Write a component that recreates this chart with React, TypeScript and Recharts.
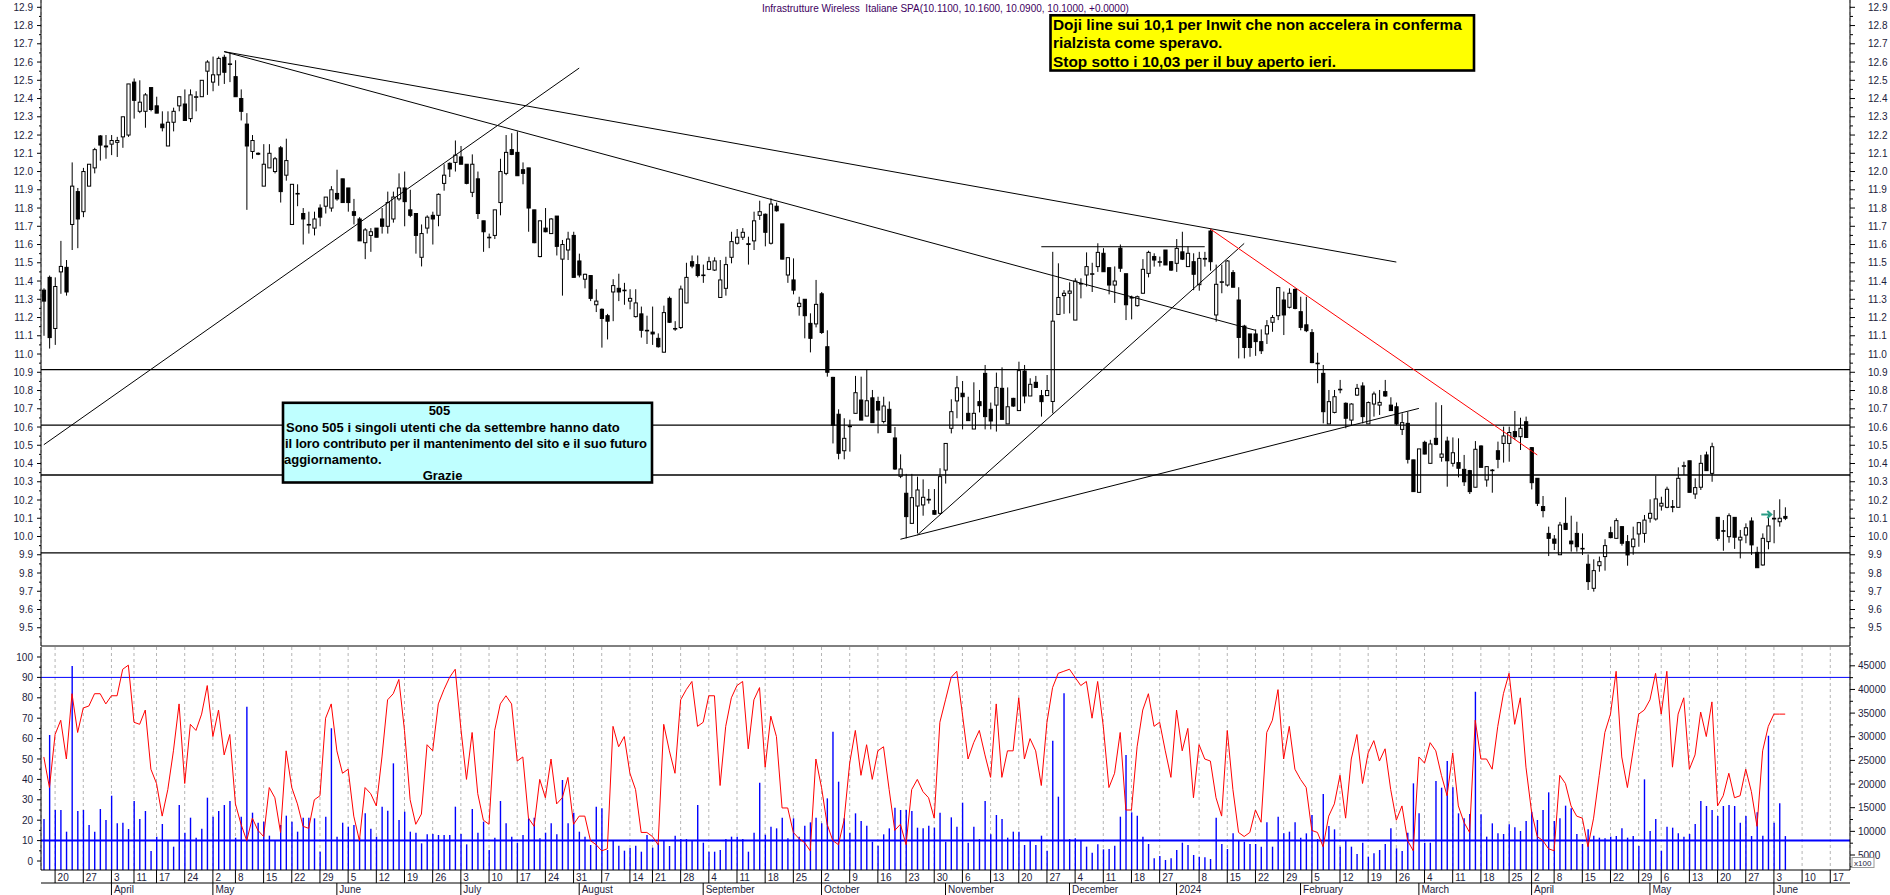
import React from 'react'
import {
  ComposedChart, Bar, Line, XAxis, YAxis, CartesianGrid, ReferenceLine, ReferenceDot,
} from 'recharts'

const FONT = '"Liberation Sans", Arial, sans-serif'
const LABEL = '#1c1c3c'
const SYMBOL = 'Infrastrutture Wireless  Italiane SPA'

// Borsa Italiana closing days inside the period
const HOLIDAYS = [
  '2023-04-07', '2023-04-10', '2023-05-01', '2023-08-15', '2023-12-25', '2023-12-26',
  '2024-01-01', '2024-03-29', '2024-04-01', '2024-05-01',
]
const MONTHS = ['January', 'February', 'March', 'April', 'May', 'June', 'July',
  'August', 'September', 'October', 'November', 'December']

function tradingDays(from: string, to: string): string[] {
  const out: string[] = []
  const d = new Date(from + 'T00:00:00Z')
  const end = new Date(to + 'T00:00:00Z')
  while (d <= end) {
    const wd = d.getUTCDay()
    const iso = d.toISOString().slice(0, 10)
    if (wd !== 0 && wd !== 6 && !HOLIDAYS.includes(iso)) out.push(iso)
    d.setUTCDate(d.getUTCDate() + 1)
  }
  return out
}

const dates = tradingDays('2023-03-16', '2024-06-20')

const opens = [
  11.35, 11.42, 11.14, 11.45, 11.475, 11.71, 11.89, 11.78, 11.92, 12.02,
  12.195, 12.14, 12.15, 12.16, 12.19, 12.2, 12.49, 12.33, 12.33, 12.46,
  12.36, 12.26, 12.14, 12.27, 12.36, 12.37, 12.29, 12.41, 12.41, 12.55,
  12.49, 12.53, 12.626, 12.59, 12.52, 12.4, 12.26, 12.11, 12.1, 11.92,
  12.02, 12.0, 12.13, 11.98, 11.71, 11.88, 11.77, 11.71, 11.69, 11.8,
  11.81, 11.8, 11.88, 11.96, 11.91, 11.78, 11.74, 11.61, 11.65, 11.69,
  11.74, 11.7, 11.74, 11.85, 11.91, 11.79, 11.77, 11.53, 11.69, 11.76,
  11.76, 11.935, 12.045, 12.05, 12.08, 12.04, 11.886, 11.96, 11.73, 11.64,
  11.65, 11.83, 11.99, 12.12, 12.105, 12.01, 12.02, 11.79, 11.534, 11.69,
  11.66, 11.756, 11.52, 11.57, 11.65, 11.51, 11.41, 11.43, 11.27, 11.245,
  11.21, 11.34, 11.36, 11.35, 11.29, 11.205, 11.22, 11.13, 11.12, 11.086,
  11.01, 11.305, 11.14, 11.145, 11.28, 11.506, 11.49, 11.43, 11.464, 11.46,
  11.31, 11.36, 11.53, 11.607, 11.64, 11.6, 11.62, 11.76, 11.766, 11.607,
  11.81, 11.713, 11.433, 11.406, 11.26, 11.3, 11.168, 11.165, 11.33, 11.04,
  10.872, 10.67, 10.47, 10.605, 10.675, 10.748, 10.66, 10.76, 10.74, 10.63,
  10.697, 10.54, 10.33, 10.237, 10.072, 10.167, 10.173, 10.204, 10.142, 10.127,
  10.364, 10.593, 10.743, 10.785, 10.675, 10.589, 10.739, 10.894, 10.697, 10.72,
  10.812, 10.617, 10.757, 10.69, 10.907, 10.77, 10.845, 10.772, 10.772, 10.74,
  11.217, 11.32, 11.333, 11.186, 11.387, 11.433, 11.44, 11.479, 11.552, 11.473,
  11.378, 11.58, 11.44, 11.31, 11.265, 11.333, 11.442, 11.534, 11.506, 11.57,
  11.506, 11.497, 11.56, 11.479, 11.506, 11.38, 11.52, 11.674, 11.214, 11.396,
  11.378, 11.446, 11.296, 11.153, 11.11, 11.11, 11.068, 11.11, 11.174, 11.21,
  11.296, 11.256, 11.354, 11.232, 11.16, 11.117, 10.95, 10.894, 10.617, 10.68,
  10.807, 10.73, 10.638, 10.775, 10.825, 10.617, 10.726, 10.72, 10.794, 10.72,
  10.711, 10.587, 10.62, 10.42, 10.242, 10.516, 10.401, 10.538, 10.434, 10.523,
  10.401, 10.405, 10.368, 10.361, 10.27, 10.496, 10.31, 10.364, 10.47, 10.51,
  10.51, 10.575, 10.547, 10.629, 10.487, 10.319, 10.164, 10.017, 9.986, 9.9,
  10.072, 9.975, 10.017, 9.935, 9.848, 9.716, 9.84, 9.89, 10.021, 9.99,
  10.054, 9.972, 9.944, 10.014, 10.017, 10.1, 10.096, 10.167, 10.16, 10.164,
  10.16, 10.388, 10.415, 10.233, 10.27, 10.447, 10.346, 10.105, 10.032, 9.999,
  10.105, 9.981, 10.008, 10.085, 9.913, 9.844, 9.972, 10.096, 10.081, 10.11,
]

const highs = [
  11.36, 11.43, 11.42, 11.62, 11.515, 12.05, 11.91, 12.02, 12.04, 12.13,
  12.2, 12.2, 12.2, 12.19, 12.3, 12.48, 12.51, 12.5, 12.43, 12.46,
  12.41, 12.33, 12.33, 12.35, 12.41, 12.45, 12.45, 12.44, 12.5, 12.61,
  12.63, 12.63, 12.64, 12.65, 12.61, 12.45, 12.32, 12.2, 12.105, 12.15,
  12.15, 12.08, 12.14, 12.18, 11.93, 11.93, 11.8, 11.78, 11.78, 11.82,
  11.86, 11.92, 12.01, 11.96, 11.91, 11.85, 11.75, 11.69, 11.69, 11.69,
  11.8, 11.89, 11.89, 11.99, 12.0, 11.9, 11.77, 11.71, 11.76, 11.78,
  11.88, 12.04, 12.05, 12.17, 12.14, 12.04, 12.094, 12.0, 11.73, 11.66,
  11.79, 12.07, 12.2, 12.21, 12.22, 12.05, 12.02, 11.79, 11.73, 11.8,
  11.745, 11.756, 11.625, 11.67, 11.67, 11.55, 11.44, 11.43, 11.355, 11.25,
  11.22, 11.41, 11.44, 11.39, 11.355, 11.355, 11.26, 11.21, 11.26, 11.113,
  11.265, 11.315, 11.18, 11.375, 11.5, 11.54, 11.54, 11.49, 11.533, 11.53,
  11.515, 11.533, 11.67, 11.685, 11.69, 11.643, 11.78, 11.84, 11.77, 11.853,
  11.83, 11.713, 11.53, 11.524, 11.314, 11.3, 11.223, 11.406, 11.34, 11.13,
  10.875, 10.697, 10.648, 10.64, 10.88, 10.876, 10.918, 10.803, 10.766, 10.766,
  10.74, 10.6, 10.45, 10.343, 10.343, 10.328, 10.313, 10.26, 10.26, 10.374,
  10.51, 10.752, 10.88, 10.852, 10.766, 10.845, 10.803, 10.94, 10.734, 10.898,
  10.927, 10.817, 10.76, 10.958, 10.94, 10.867, 10.88, 10.803, 10.885, 11.56,
  11.497, 11.35, 11.393, 11.415, 11.415, 11.557, 11.5, 11.607, 11.58, 11.475,
  11.48, 11.6, 11.44, 11.32, 11.32, 11.52, 11.566, 11.552, 11.534, 11.57,
  11.51, 11.63, 11.67, 11.59, 11.552, 11.56, 11.56, 11.683, 11.49, 11.49,
  11.515, 11.46, 11.366, 11.16, 11.11, 11.135, 11.135, 11.186, 11.214, 11.364,
  11.342, 11.36, 11.36, 11.314, 11.314, 11.137, 11.007, 10.94, 10.803, 10.803,
  10.858, 10.735, 10.73, 10.836, 10.845, 10.74, 10.794, 10.803, 10.858, 10.763,
  10.734, 10.675, 10.684, 10.42, 10.48, 10.525, 10.53, 10.735, 10.72, 10.547,
  10.543, 10.538, 10.447, 10.365, 10.523, 10.5, 10.385, 10.37, 10.52, 10.602,
  10.602, 10.688, 10.651, 10.657, 10.49, 10.32, 10.222, 10.054, 10.008, 10.08,
  10.215, 10.114, 10.081, 10.017, 9.902, 9.875, 9.89, 9.985, 10.054, 10.1,
  10.057, 10.008, 10.054, 10.08, 10.118, 10.204, 10.333, 10.218, 10.273, 10.2,
  10.379, 10.41, 10.415, 10.319, 10.447, 10.465, 10.514, 10.105, 10.09, 10.127,
  10.105, 10.036, 10.072, 10.105, 9.944, 10.017, 10.118, 10.145, 10.204, 10.16,
]

const lows = [
  11.1, 11.03, 11.05, 11.33, 11.32, 11.57, 11.58, 11.75, 11.92, 11.99,
  12.06, 12.07, 12.09, 12.08, 12.13, 12.19, 12.29, 12.32, 12.24, 12.33,
  12.32, 12.22, 12.14, 12.22, 12.33, 12.28, 12.27, 12.33, 12.41, 12.42,
  12.44, 12.47, 12.48, 12.49, 12.41, 12.28, 11.79, 12.07, 12.09, 11.92,
  12.02, 11.99, 11.83, 11.95, 11.71, 11.81, 11.6, 11.66, 11.65, 11.7,
  11.77, 11.78, 11.84, 11.83, 11.78, 11.71, 11.62, 11.52, 11.56, 11.64,
  11.66, 11.66, 11.72, 11.84, 11.7, 11.75, 11.55, 11.48, 11.66, 11.6,
  11.7, 11.895, 11.97, 12.0, 12.04, 11.93, 11.86, 11.74, 11.56, 11.58,
  11.63, 11.76, 11.98, 12.09, 11.977, 11.93, 11.67, 11.607, 11.53, 11.667,
  11.66, 11.54, 11.32, 11.515, 11.42, 11.42, 11.36, 11.29, 11.23, 11.035,
  11.08, 11.18, 11.29, 11.27, 11.245, 11.2, 11.09, 11.055, 11.05, 11.035,
  11.009, 11.17, 11.127, 11.137, 11.278, 11.47, 11.42, 11.39, 11.46, 11.455,
  11.31, 11.32, 11.497, 11.6, 11.625, 11.49, 11.57, 11.735, 11.59, 11.6,
  11.78, 11.519, 11.39, 11.327, 11.21, 11.086, 11.009, 11.146, 11.11, 10.876,
  10.51, 10.423, 10.423, 10.465, 10.675, 10.638, 10.66, 10.624, 10.565, 10.62,
  10.57, 10.365, 10.32, 9.99, 10.07, 10.017, 10.114, 10.18, 10.12, 10.12,
  10.29, 10.565, 10.648, 10.587, 10.635, 10.589, 10.68, 10.587, 10.587, 10.575,
  10.642, 10.617, 10.71, 10.69, 10.73, 10.77, 10.817, 10.657, 10.77, 10.675,
  11.217, 11.22, 11.223, 11.186, 11.305, 11.37, 11.34, 11.45, 11.45, 11.327,
  11.28, 11.45, 11.186, 11.19, 11.26, 11.33, 11.42, 11.479, 11.479, 11.488,
  11.455, 11.45, 11.515, 11.479, 11.35, 11.347, 11.479, 11.457, 11.177, 11.333,
  11.37, 11.366, 10.976, 10.976, 10.985, 10.99, 11.0, 11.055, 11.122, 11.186,
  11.104, 11.25, 11.245, 11.13, 11.12, 10.95, 10.84, 10.62, 10.617, 10.675,
  10.785, 10.593, 10.61, 10.77, 10.62, 10.617, 10.657, 10.666, 10.766, 10.69,
  10.61, 10.556, 10.4, 10.245, 10.24, 10.45, 10.4, 10.5, 10.41, 10.273,
  10.383, 10.324, 10.277, 10.233, 10.27, 10.379, 10.273, 10.24, 10.374, 10.405,
  10.41, 10.529, 10.474, 10.54, 10.258, 10.167, 10.105, 9.893, 9.926, 9.899,
  10.035, 9.917, 9.917, 9.899, 9.707, 9.698, 9.807, 9.813, 9.99, 9.99,
  9.95, 9.84, 9.9, 9.944, 9.966, 10.076, 10.087, 10.142, 10.155, 10.133,
  10.16, 10.337, 10.242, 10.206, 10.255, 10.36, 10.3, 9.977, 9.922, 9.966,
  9.932, 9.88, 9.963, 9.899, 9.829, 9.84, 9.93, 9.963, 10.054, 10.09,
]

const closes = [
  11.29, 11.09, 11.37, 11.48, 11.34, 11.92, 11.74, 12.0, 12.04, 12.12,
  12.145, 12.135, 12.17, 12.17, 12.3, 12.48, 12.39, 12.38, 12.42, 12.34,
  12.32, 12.24, 12.27, 12.33, 12.41, 12.28, 12.42, 12.41, 12.5, 12.6,
  12.53, 12.62, 12.544, 12.59, 12.41, 12.33, 12.14, 12.17, 12.095, 12.04,
  12.1, 12.07, 11.89, 12.06, 11.93, 11.88, 11.74, 11.71, 11.74, 11.75,
  11.86, 11.9, 11.85, 11.83, 11.83, 11.76, 11.62, 11.68, 11.67, 11.64,
  11.7, 11.83, 11.86, 11.91, 11.835, 11.76, 11.65, 11.66, 11.75, 11.74,
  11.875, 11.98, 12.014, 12.09, 12.04, 11.935, 12.04, 11.77, 11.67, 11.64,
  11.79, 12.0, 12.105, 12.094, 11.977, 11.99, 11.8, 11.61, 11.73, 11.67,
  11.74, 11.59, 11.6, 11.63, 11.42, 11.433, 11.437, 11.305, 11.29, 11.195,
  11.18, 11.375, 11.34, 11.35, 11.305, 11.28, 11.13, 11.13, 11.11, 11.04,
  11.227, 11.174, 11.137, 11.356, 11.42, 11.482, 11.43, 11.433, 11.506, 11.51,
  11.406, 11.49, 11.616, 11.64, 11.667, 11.605, 11.73, 11.78, 11.667, 11.822,
  11.785, 11.52, 11.528, 11.35, 11.278, 11.21, 11.086, 11.272, 11.118, 10.9,
  10.61, 10.456, 10.538, 10.605, 10.788, 10.638, 10.744, 10.624, 10.693, 10.715,
  10.57, 10.37, 10.37, 10.109, 10.213, 10.255, 10.215, 10.2, 10.122, 10.328,
  10.51, 10.684, 10.815, 10.766, 10.635, 10.675, 10.717, 10.657, 10.633, 10.817,
  10.642, 10.711, 10.715, 10.909, 10.77, 10.834, 10.817, 10.739, 10.8, 11.18,
  11.31, 11.333, 11.345, 11.4, 11.387, 11.479, 11.44, 11.557, 11.451, 11.378,
  11.4, 11.47, 11.27, 11.31, 11.314, 11.464, 11.557, 11.515, 11.506, 11.488,
  11.46, 11.579, 11.52, 11.552, 11.437, 11.524, 11.524, 11.506, 11.382, 11.396,
  11.51, 11.366, 11.091, 11.036, 11.036, 11.068, 11.018, 11.155, 11.2, 11.364,
  11.214, 11.333, 11.25, 11.146, 11.128, 10.953, 10.947, 10.684, 10.739, 10.766,
  10.807, 10.648, 10.726, 10.812, 10.657, 10.734, 10.781, 10.735, 10.77, 10.69,
  10.617, 10.624, 10.423, 10.246, 10.48, 10.452, 10.507, 10.505, 10.452, 10.415,
  10.459, 10.374, 10.3, 10.246, 10.478, 10.379, 10.383, 10.364, 10.423, 10.551,
  10.57, 10.547, 10.593, 10.543, 10.295, 10.182, 10.142, 9.99, 9.963, 10.063,
  10.039, 9.96, 9.944, 9.935, 9.753, 9.813, 9.862, 9.95, 9.994, 10.087,
  9.963, 9.899, 9.986, 10.076, 10.09, 10.127, 10.206, 10.182, 10.259, 10.16,
  10.319, 10.388, 10.242, 10.268, 10.401, 10.361, 10.492, 9.99, 10.03, 10.114,
  9.996, 9.996, 10.048, 9.954, 9.829, 9.99, 10.058, 10.1, 10.1, 10.1,
]

// volume, axis units (x100 shares)
const volumes = [
  12609, 30367, 14511, 14511, 9931, 44954, 14300, 14511, 11340, 9931,
  14723, 12397, 17541, 11693, 11834, 10495, 16414, 12609, 14300, 5842,
  8874, 11552, 7958, 6760, 15569, 9720, 12890, 8663, 10566, 17119,
  13102, 14300, 15569, 16414, 8663, 13102, 36357, 13948, 11834, 12045,
  9085, 8170, 11340, 13314, 12045, 9931, 12890, 12890, 12750, 5702,
  13102, 31777, 8874, 11834, 10988, 11340, 8663, 13807, 10566, 8874,
  15216, 14370, 24378, 12397, 14159, 9931, 9720, 7465, 9368, 9439,
  9227, 9227, 9227, 15216, 9439, 7254, 14723, 9720, 12045, 6055,
  8663, 16414, 11693, 8874, 7606, 9227, 12750, 12890, 8522, 9720,
  11693, 9368, 20854, 11693, 13948, 9931, 8874, 7113, 15216, 14864,
  6055, 8170, 6972, 5914, 6478, 6972, 5702, 9227, 6549, 7465,
  8170, 6901, 9085, 8381, 8381, 8170, 15569, 7606, 5702, 5702,
  6055, 8381, 8874, 8874, 8381, 5702, 9720, 20290, 9297, 10988,
  10636, 12890, 8522, 12750, 8874, 11200, 11904, 12890, 11693, 16978,
  31072, 20502, 12750, 9720, 13807, 12186, 11200, 7817, 6972, 9368,
  10636, 15005, 14511, 14511, 14300, 10777, 10636, 11200, 10777, 13948,
  7817, 12961, 10988, 16063, 7606, 10988, 8381, 16414, 9368, 13455,
  12609, 8663, 9931, 9931, 7113, 8170, 7113, 9085, 5914, 29170,
  17330, 39176, 8381, 8522, 8170, 6760, 5491, 7254, 6196, 6267,
  6972, 13102, 26140, 14018, 13314, 8874, 7324, 4293, 4788, 3941,
  4293, 6055, 7606, 7113, 4999, 4646, 4505, 4152, 12890, 7324,
  6267, 9579, 8029, 7817, 7324, 7324, 6760, 11904, 6760, 13102,
  9579, 9931, 11904, 8663, 9579, 13455, 8381, 17894, 11129, 10425,
  6760, 8029, 6760, 5209, 7606, 4646, 5350, 6055, 7324, 10636,
  6408, 5843, 9720, 20149, 13807, 7606, 7606, 20643, 19234, 24871,
  19304, 13807, 12750, 13666, 39529, 13596, 8874, 11693, 9579, 9439,
  11482, 10847, 10072, 12186, 14159, 12397, 14511, 18247, 12186, 12750,
  15428, 14864, 9439, 7324, 10425, 9085, 8663, 8522, 8874, 9015,
  10636, 8663, 9015, 6901, 20995, 10072, 12609, 5914, 10988, 10777,
  9579, 8874, 9439, 11552, 16414, 15357, 14511, 13244, 15357, 15569,
  15357, 11834, 13244, 9015, 14018, 9085, 30227, 11834, 15921, 9000,
]

// oscillator, 0-100 scale
const oscillator = [
  51, 36, 62, 69, 50, 82, 63, 75, 76, 82,
  82, 77, 81, 81, 94, 96, 68, 67, 74, 45,
  38, 22, 35, 54, 77, 38, 67, 64, 72, 86,
  61, 74, 52, 62, 28, 18, 10, 21, 15, 12,
  36, 31, 14, 54, 36, 28, 17, 16, 30, 32,
  70, 77, 54, 43, 45, 22, 10, 36, 33, 27,
  51, 79, 82, 89, 64, 30, 18, 23, 57, 54,
  77, 84, 90, 94, 65, 40, 63, 33, 20, 18,
  64, 77, 81, 77, 49, 51, 21, 17, 40, 31,
  50, 28, 31, 41, 18, 22, 22, 10, 8, 5,
  6, 66, 56, 61, 43, 35, 14, 14, 12, 8,
  67, 54, 43, 79, 84, 88, 66, 68, 81, 81,
  37, 66, 80, 86, 88, 55, 79, 85, 46, 71,
  61, 26, 26, 14, 11, 9, 5, 50, 36, 18,
  10, 8, 20, 48, 64, 42, 57, 40, 54, 56,
  35, 15, 18, 8, 35, 40, 34, 31, 21, 68,
  79, 90, 93, 72, 50, 58, 64, 52, 41, 77,
  41, 54, 54, 80, 50, 60, 54, 37, 68, 85,
  92, 93, 94, 90, 86, 88, 70, 88, 66, 36,
  43, 63, 25, 25, 56, 74, 82, 66, 68, 54,
  41, 74, 54, 65, 31, 57, 50, 49, 31, 22,
  64, 35, 14, 12, 14, 25, 19, 63, 69, 84,
  50, 66, 45, 40, 36, 15, 14, 7, 22, 28,
  42, 21, 50, 62, 38, 53, 59, 49, 55, 35,
  20, 27, 10, 5, 51, 48, 58, 54, 42, 32,
  53, 27, 19, 14, 69, 50, 50, 45, 66, 82,
  92, 67, 80, 46, 24, 12, 10, 6, 5, 42,
  38, 27, 22, 21, 7, 21, 42, 63, 72, 93,
  51, 36, 54, 72, 74, 79, 92, 72, 93, 46,
  72, 80, 45, 52, 73, 61, 78, 27, 32, 43,
  31, 32, 45, 34, 17, 54, 66, 72, 72, 72,
]

// axis tick labels
const priceTicks = [
  9.5, 9.6, 9.7, 9.8, 9.9, 10.0, 10.1, 10.2, 10.3, 10.4, 10.5, 10.6, 10.7, 10.8, 10.9,
  11.0, 11.1, 11.2, 11.3, 11.4, 11.5, 11.6, 11.7, 11.8, 11.9, 12.0, 12.1, 12.2, 12.3,
  12.4, 12.5, 12.6, 12.7, 12.8, 12.9,
]
const oscTicks = [0, 10, 20, 30, 40, 50, 60, 70, 80, 90, 100]
const volTicks = [5000, 10000, 15000, 20000, 25000, 30000, 35000, 40000, 45000]

// drawn levels and trend lines (price, or [startIndex, startPrice, endIndex, endPrice])
const supportLevels = [10.915, 10.61, 10.337, 9.91]
const blackTrendlines: [number, number, number, number][] = [
  [0, 10.503, 95, 12.567],
  [32, 12.657, 240, 11.504],
  [32, 12.657, 215, 11.13],
  [177, 11.588, 206, 11.588],
  [155, 10.008, 213, 11.606],
  [152, 9.985, 244, 10.702],
]
const redTrendline: [number, number, number, number] = [207, 11.685, 265, 10.447]
const arrowMark = { index: 306, price: 10.12 }

const PRICE_DOMAIN: [number, number] = [9.4, 12.94]
const OSC_DOMAIN: [number, number] = [-4.41, 104.9]
const VOL_DOMAIN: [number, number] = [1829, 48975]

const rows = dates.map((date, i) => ({
  date,
  open: opens[i],
  high: highs[i],
  low: lows[i],
  close: closes[i],
  vol: volumes[i],
  osc: oscillator[i],
}))

function weekKey(iso: string) {
  const d = new Date(iso + 'T00:00:00Z')
  d.setUTCDate(d.getUTCDate() - ((d.getUTCDay() + 6) % 7))
  return d.toISOString().slice(0, 10)
}
const weekTicks = dates.filter((d, i) => i > 0 && weekKey(d) !== weekKey(dates[i - 1]) && d !== '2024-01-02')
const monthTicks = dates.filter((d, i) => i > 0 && d.slice(0, 7) !== dates[i - 1].slice(0, 7))

const withMinors = (majors: number[], step: number, dom: [number, number]) =>
  [...majors, ...majors.map((m) => +(m - step / 2).toFixed(4)), +(majors[majors.length - 1] + step / 2).toFixed(4)]
    .filter((v) => v >= dom[0] && v <= dom[1])
    .sort((a, b) => a - b)

function makeTick(side: 'left' | 'right', majors: number[], fmt: (v: number) => string, gap: number, majorLen: number, minorLen: number) {
  return function AxisTick(props: any) {
    const { x, y, payload } = props
    const v = Number(payload.value)
    const major = majors.some((m) => Math.abs(m - v) < 1e-6)
    const dir = side === 'left' ? -1 : 1
    return (
      <g>
        <line x1={x} x2={x + dir * (major ? majorLen : minorLen)} y1={y} y2={y} stroke="#000" strokeWidth={1} />
        {major && (
          <text x={x + dir * gap} y={y} dy={3.6} textAnchor={side === 'left' ? 'end' : 'start'}
            fontSize={10} fontFamily={FONT} fill={LABEL}>{fmt(v)}</text>
        )}
      </g>
    )
  }
}

const PriceLeftTick = makeTick('left', priceTicks, (v) => v.toFixed(1), 8, 4, 2)
const PriceRightTick = makeTick('right', priceTicks, (v) => v.toFixed(1), 18, 5, 3)
const OscTick = makeTick('left', oscTicks, (v) => String(v), 8, 4, 2)
const VolTick = makeTick('right', volTicks, (v) => String(v), 8, 5, 3)

function DayTick(props: any) {
  const { x, y, payload } = props
  return (
    <g>
      <line x1={x} x2={x} y1={y} y2={y + 13} stroke="#000" strokeWidth={1} />
      <text x={x + 2.5} y={y + 10.5} fontSize={10} fontFamily={FONT} fill={LABEL}>
        {Number(String(payload.value).slice(8, 10))}
      </text>
    </g>
  )
}

function MonthTick(props: any) {
  const { x, y, payload } = props
  const iso = String(payload.value)
  const m = Number(iso.slice(5, 7)) - 1
  return (
    <g>
      <line x1={x} x2={x} y1={y} y2={y + 12} stroke="#000" strokeWidth={1} />
      <text x={x + 2.5} y={y + 10} fontSize={10} fontFamily={FONT} fill={LABEL}>
        {m === 0 ? iso.slice(0, 4) : MONTHS[m]}
      </text>
    </g>
  )
}

function Candle(props: any) {
  const { x, y, width, height, payload } = props
  if (!payload || payload.open == null) return <g />
  const { open, high, low, close } = payload
  const top = Math.min(y, y + height)
  const h = Math.abs(height)
  const cx = x + width / 2
  const span = high - low
  const toY = (v: number) => (span > 0 ? top + ((high - v) / span) * h : top)
  const bTop = toY(Math.max(open, close))
  const bBot = toY(Math.min(open, close))
  const up = close >= open
  return (
    <g>
      <line x1={cx} x2={cx} y1={top} y2={top + h} stroke="#000" strokeWidth={1} />
      <rect x={cx - 1.6} y={bTop} width={3.2} height={Math.max(bBot - bTop, 0.6)}
        fill={up ? '#fff' : '#000'} stroke="#000" strokeWidth={1} />
    </g>
  )
}

function VolStick(props: any) {
  const { x, y, width, height, payload } = props
  if (!payload || payload.vol == null) return <g />
  const cx = x + width / 2
  return <line x1={cx} x2={cx} y1={y} y2={y + height} stroke="#0000ff" strokeWidth={1.4} />
}

function Arrow(props: any) {
  const { cx, cy } = props
  return (
    <path d={`M${cx - 7} ${cy} H${cx + 2} M${cx - 1} ${cy - 3.5} L${cx + 3} ${cy} L${cx - 1} ${cy + 3.5}`}
      stroke="#2a9d86" strokeWidth={2} fill="none" />
  )
}

const f4 = (v: number) => v.toFixed(4)
const last = closes.length - 1
const change = closes[last] - closes[last - 1]
const title = `${SYMBOL}(${f4(opens[last])}, ${f4(highs[last])}, ${f4(lows[last])}, ${f4(closes[last])}, ${change >= 0 ? '+' : '-'}${f4(Math.abs(change))})`

export default function App() {
  const priceAxisTicks = withMinors(priceTicks, 0.1, PRICE_DOMAIN)
  const oscAxisTicks = withMinors(oscTicks, 10, OSC_DOMAIN)
  const volAxisTicks = withMinors(volTicks, 5000, VOL_DOMAIN)
  const axisCommon = { tickSize: 0, tickMargin: 0, tickLine: false, axisLine: { stroke: '#000' }, interval: 0 as const, allowDataOverflow: true, type: 'number' as const }

  return (
    <div style={{ position: 'absolute', left: 0, top: 0, width: 1890, height: 895, background: '#fff', overflow: 'hidden' }}>
      <ComposedChart width={1890} height={647} data={rows} margin={{ top: 0, right: 0, bottom: 0, left: 0 }}>
        <CartesianGrid yAxisId="p" horizontal={false} stroke="#b4b4b4" strokeDasharray="3 3" />
        <XAxis dataKey="date" ticks={weekTicks} interval={0} height={1} tick={false} tickLine={false} axisLine={{ stroke: '#000' }} />
        <YAxis yAxisId="p" orientation="left" width={41} domain={PRICE_DOMAIN} ticks={priceAxisTicks} tick={<PriceLeftTick />} {...axisCommon} />
        <YAxis yAxisId="p2" orientation="right" width={40} domain={PRICE_DOMAIN} ticks={priceAxisTicks} tick={<PriceRightTick />} {...axisCommon} />
        <Bar yAxisId="p" dataKey={(d: any) => (d.open == null ? null : [d.low, d.high])} barSize={4}
          shape={(p: any) => <Candle {...p} />} isAnimationActive={false} />
        <Line yAxisId="p2" dataKey="close" stroke="none" dot={false} activeDot={false} isAnimationActive={false} />
        {supportLevels.map((lv) => (
          <ReferenceLine key={lv} yAxisId="p" y={lv} stroke="#000" strokeWidth={1.3} />
        ))}
        {blackTrendlines.map(([i0, p0, i1, p1], k) => (
          <ReferenceLine key={'t' + k} yAxisId="p" stroke="#000" strokeWidth={1}
            segment={[{ x: dates[i0], y: p0 }, { x: dates[i1], y: p1 }]} />
        ))}
        <ReferenceLine yAxisId="p" stroke="#ff0000" strokeWidth={1}
          segment={[{ x: dates[redTrendline[0]], y: redTrendline[1] }, { x: dates[redTrendline[2]], y: redTrendline[3] }]} />
        <ReferenceDot yAxisId="p" x={dates[arrowMark.index]} y={arrowMark.price} r={0} shape={(p: any) => <Arrow {...p} />} />
      </ComposedChart>

      <ComposedChart width={1890} height={248} data={rows} margin={{ top: 0, right: 0, bottom: 0, left: 0 }}>
        <CartesianGrid xAxisId="d" yAxisId="l" horizontal={false} stroke="#b4b4b4" strokeDasharray="3 3" />
        <XAxis xAxisId="d" dataKey="date" ticks={weekTicks} interval={0} height={13} tickSize={0} tickMargin={0}
          tickLine={false} axisLine={{ stroke: '#000' }} tick={<DayTick />} />
        <XAxis xAxisId="m" dataKey="date" ticks={monthTicks} interval={0} height={12} tickSize={0} tickMargin={0}
          tickLine={false} axisLine={{ stroke: '#000' }} tick={<MonthTick />} />
        <YAxis yAxisId="l" orientation="left" width={41} domain={OSC_DOMAIN} ticks={oscAxisTicks} tick={<OscTick />} {...axisCommon} />
        <YAxis yAxisId="r" orientation="right" width={40} domain={VOL_DOMAIN} ticks={volAxisTicks} tick={<VolTick />} {...axisCommon} />
        <Bar xAxisId="d" yAxisId="r" dataKey="vol" barSize={2} shape={(p: any) => <VolStick {...p} />} isAnimationActive={false} />
        <ReferenceLine xAxisId="d" yAxisId="l" y={90} stroke="#0000ff" strokeWidth={1} />
        <ReferenceLine xAxisId="d" yAxisId="l" y={10} stroke="#0000ff" strokeWidth={2} />
        <Line xAxisId="d" yAxisId="l" dataKey="osc" type="linear" stroke="#ff0000" strokeWidth={1} dot={false}
          activeDot={false} isAnimationActive={false} />
        <Line xAxisId="m" yAxisId="l" dataKey="osc" stroke="none" dot={false} activeDot={false} isAnimationActive={false} />
      </ComposedChart>

      <svg width={1890} height={895} style={{ position: 'absolute', left: 0, top: 0, pointerEvents: 'none' }}>
        <text x={762} y={12.3} fontSize={10} fontFamily={FONT} fill="#400060" style={{ whiteSpace: 'pre' }}>{title}</text>

        <rect x={1050.5} y={15.3} width={423.5} height={55.2} fill="#ffff00" stroke="#000" strokeWidth={2.6} />
        <g fontFamily={FONT} fontWeight="bold" fontSize={15.4} fill="#000">
          <text x={1053} y={29.7}>Doji line sui 10,1 per Inwit che non accelera in conferma</text>
          <text x={1053} y={48.2}>rialzista come speravo.</text>
          <text x={1053} y={66.5}>Stop sotto i 10,03 per il buy aperto ieri.</text>
        </g>

        <rect x={283} y={402.8} width={369} height={79.7} fill="#bfffff" stroke="#000" strokeWidth={2.6} />
        <g fontFamily={FONT} fontWeight="bold" fontSize={13} fill="#000">
          <text x={439.5} y={415} textAnchor="middle">505</text>
          <text x={286} y={431.7}>Sono 505 i singoli utenti che da settembre hanno dato</text>
          <text x={285} y={447.7} textLength={362} lengthAdjust="spacing">il loro contributo per il mantenimento del sito e il suo futuro</text>
          <text x={284} y={463.5}>aggiornamento.</text>
          <text x={442.5} y={480} textAnchor="middle">Grazie</text>
        </g>

        <rect x={1852} y={857.5} width={22} height={10} fill="#fff" stroke="#999" strokeWidth={1} />
        <text x={1854} y={865.5} fontSize={8} fontFamily={FONT} fill={LABEL}>x100</text>
      </svg>
    </div>
  )
}
